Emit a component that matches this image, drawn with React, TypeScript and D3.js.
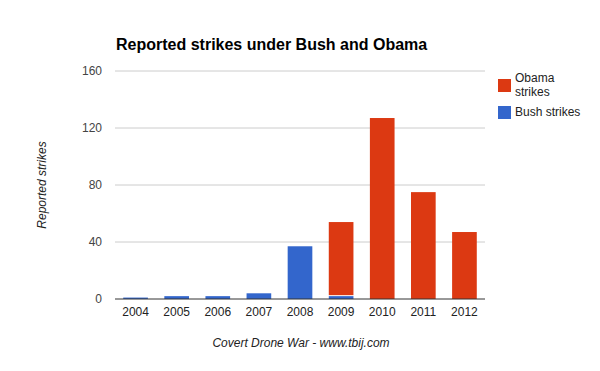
import React from "react";
import * as d3 from "d3";

const years = ["2004", "2005", "2006", "2007", "2008", "2009", "2010", "2011", "2012"];
const bushStrikes = [1, 2, 2, 4, 37, 2, 0, 0, 0];
const obamaStrikes = [0, 0, 0, 0, 0, 52, 127, 75, 47];
const yTicks = [0, 40, 80, 120, 160];

const W = 600, H = 371;
const plot = { left: 115, right: 485, top: 71, bottom: 299 };
const BUSH = "#3366cc";
const OBAMA = "#dc3912";
const FONT = "Arial, 'Liberation Sans', sans-serif";

export default function App() {
  const x = d3.scaleBand<string>().domain(years).range([plot.left, plot.right]).paddingInner(0.4).paddingOuter(0.2);
  const y = d3.scaleLinear().domain([0, 160]).range([plot.bottom, plot.top]);
  const rows = years.map((yr, i) => ({ yr, bush: bushStrikes[i], obama: obamaStrikes[i] }));
  const stack = d3.stack<any>().keys(["bush", "obama"])(rows);
  const colors: Record<string, string> = { bush: BUSH, obama: OBAMA };

  return (
    <svg width={W} height={H} style={{ position: "absolute", left: 0, top: 0, background: "#fff" }} fontFamily={FONT}>
      <rect width={W} height={H} fill="#fff" />
      <text x={116} y={50} fontSize={16} fontWeight="bold" fill="#000">Reported strikes under Bush and Obama</text>
      {yTicks.map((t) => (
        <g key={t}>
          {t !== 0 && <line x1={plot.left} x2={plot.right} y1={y(t)} y2={y(t)} stroke="#cccccc" strokeWidth={1} />}
          <text x={102} y={y(t)} dy="0.35em" textAnchor="end" fontSize={12} fill="#444">{t}</text>
        </g>
      ))}
      {stack.map((layer) => (
        <g key={layer.key} fill={colors[layer.key]}>
          {layer.map((d, i) => {
            const h = y(d[0]) - y(d[1]);
            if (h <= 0) return null;
            const gap = layer.key === "obama" && d[0] > 0 ? 1 : 0;
            return (
              <rect key={i} x={x(years[i])} width={x.bandwidth()} y={y(d[1])} height={Math.max(0, h - gap)} />
            );
          })}
        </g>
      ))}
      <line x1={plot.left} x2={plot.right} y1={plot.bottom} y2={plot.bottom} stroke="#333" strokeWidth={1} />
      {years.map((yr) => (
        <text key={yr} x={(x(yr) as number) + x.bandwidth() / 2} y={316} textAnchor="middle" fontSize={12} fill="#222">{yr}</text>
      ))}
      <text transform={`translate(46,${(plot.top + plot.bottom) / 2}) rotate(-90)`} textAnchor="middle" fontSize={12} fontStyle="italic" fill="#222">Reported strikes</text>
      <text x={301} y={347} textAnchor="middle" fontSize={12} fontStyle="italic" fill="#222">Covert Drone War - www.tbij.com</text>
      <g fontSize={12} fill="#222">
        <rect x={498} y={79} width={13} height={13} fill={OBAMA} />
        <text x={515} y={82} fill="#222">Obama</text>
        <text x={515} y={96} fill="#222">strikes</text>
        <rect x={498} y={106} width={13} height={13} fill={BUSH} />
        <text x={515} y={116} fill="#222">Bush strikes</text>
      </g>
    </svg>
  );
}
